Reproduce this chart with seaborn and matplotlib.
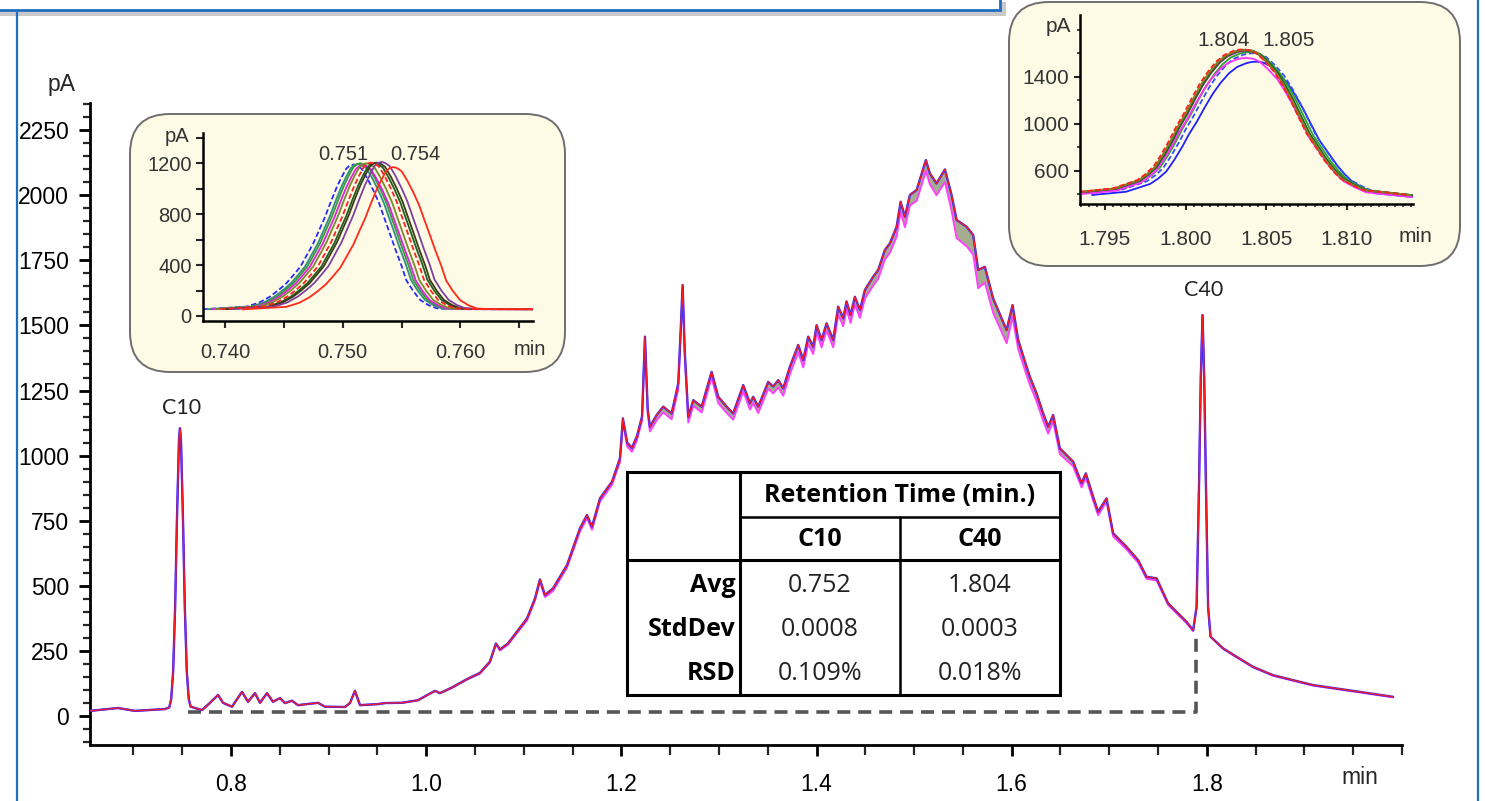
import numpy as np
import pandas as pd
import seaborn as sns
import matplotlib.pyplot as plt
from matplotlib.patches import FancyBboxPatch, Rectangle
from matplotlib.ticker import MultipleLocator, FixedLocator, FormatStrFormatter

# ---- main chromatogram (top trace of the overlay) ----
rt = [0.6555, 0.6842, 0.7016, 0.7324, 0.7367, 0.7387, 0.7407, 0.7427, 0.7447, 0.7467,
      0.7477, 0.7487, 0.7507, 0.7527, 0.7547, 0.7567, 0.7587, 0.7703, 0.7785, 0.7867,
      0.7918, 0.8010, 0.8113, 0.8174, 0.8246, 0.8297, 0.8369, 0.8430, 0.8502, 0.8553,
      0.8625, 0.8686, 0.8891, 0.8963, 0.9168, 0.9219, 0.9270, 0.9322, 0.9506, 0.9578,
      0.9752, 0.9916, 1.0090, 1.0141, 1.0264, 1.0418, 1.0551, 1.0653, 1.0715, 1.0756,
      1.0838, 1.0930, 1.1033, 1.1115, 1.1166, 1.1217, 1.1299, 1.1443, 1.1576, 1.1648,
      1.1699, 1.1781, 1.1904, 1.1986, 1.2016, 1.2060, 1.2109, 1.2160, 1.2212, 1.2242,
      1.2270, 1.2293, 1.2362, 1.2429, 1.2515, 1.2583, 1.2608, 1.2628, 1.2650, 1.2686,
      1.2737, 1.2823, 1.2925, 1.2993, 1.3079, 1.3146, 1.3249, 1.3318, 1.3351, 1.3403,
      1.3505, 1.3556, 1.3608, 1.3659, 1.3727, 1.3813, 1.3864, 1.3915, 1.3966, 1.4001,
      1.4052, 1.4103, 1.4171, 1.4222, 1.4274, 1.4308, 1.4349, 1.4393, 1.4445, 1.4496,
      1.4581, 1.4632, 1.4701, 1.4752, 1.4821, 1.4862, 1.4906, 1.4957, 1.5026, 1.5121,
      1.5162, 1.5230, 1.5316, 1.5384, 1.5436, 1.5538, 1.5606, 1.5657, 1.5725, 1.5810,
      1.5948, 1.6009, 1.6067, 1.6153, 1.6186, 1.6255, 1.6323, 1.6374, 1.6425, 1.6494,
      1.6630, 1.6716, 1.6760, 1.6835, 1.6886, 1.6972, 1.7040, 1.7177, 1.7296, 1.7382,
      1.7485, 1.7603, 1.7792, 1.7860, 1.7895, 1.7921, 1.7938, 1.7956, 1.7973, 1.7990,
      1.8013, 1.8038, 1.8167, 1.8304, 1.8474, 1.8679, 1.8884, 1.9089, 1.9329, 1.9568,
      1.9909]
signal = [20, 31, 20, 27, 33, 65, 171, 414, 770, 1063,
          1105, 1063, 770, 414, 171, 65, 36, 23, 51, 81,
          51, 36, 93, 55, 88, 51, 88, 55, 69, 50,
          59, 42, 51, 36, 35, 50, 97, 42, 46, 50,
          51, 61, 97, 88, 110, 142, 166, 209, 279, 256,
          279, 324, 375, 452, 525, 465, 490, 580, 721, 772,
          727, 836, 900, 990, 1143, 1050, 1030, 1075, 1150, 1457,
          1180, 1111, 1156, 1188, 1162, 1277, 1480, 1655, 1400, 1149,
          1213, 1188, 1322, 1226, 1188, 1162, 1271, 1201, 1226, 1188,
          1283, 1265, 1290, 1258, 1341, 1425, 1367, 1457, 1418, 1501,
          1444, 1508, 1444, 1572, 1527, 1592, 1540, 1610, 1559, 1636,
          1687, 1713, 1790, 1815, 1879, 1975, 1917, 2001, 2020, 2135,
          2084, 2045, 2099, 2001, 1905, 1879, 1847, 1713, 1725, 1604,
          1482, 1578, 1444, 1341, 1303, 1239, 1162, 1111, 1156, 1028,
          977, 894, 932, 842, 785, 836, 702, 650, 599, 535,
          529, 433, 362, 330, 420, 906, 1300, 1540, 1300, 906,
          420, 305, 260, 228, 189, 157, 138, 119, 106, 93,
          74]
# depth of the replicate band below the top trace
band = [0, 0, 0, 0, 0, 0, 0, 0, 0, 0,
        0, 0, 0, 0, 0, 0, 0, 0, 0, 0,
        0, 0, 0, 0, 0, 0, 0, 0, 0, 0,
        0, 0, 0, 0, 0, 0, 0, 0, 0, 0,
        0, 0, 0, 0, 2, 2, 3, 3, 4, 4,
        5, 5, 8, 8, 8, 8, 10, 10, 12, 12,
        12, 12, 12, 14, 15, 15, 15, 15, 15, 15,
        15, 18, 20, 22, 22, 22, 15, 12, 15, 22,
        22, 22, 22, 24, 24, 24, 24, 24, 24, 24,
        26, 26, 28, 28, 28, 28, 28, 28, 28, 28,
        28, 28, 28, 30, 30, 30, 30, 30, 30, 32,
        34, 34, 36, 36, 38, 38, 40, 40, 42, 42,
        42, 45, 48, 60, 70, 75, 75, 70, 60, 55,
        50, 45, 35, 32, 30, 30, 28, 26, 24, 22,
        18, 16, 16, 15, 14, 12, 12, 10, 10, 8,
        8, 6, 5, 4, 0, 0, 0, 0, 0, 0,
        0, 0, 2, 2, 2, 2, 2, 2, 2, 2,
        2]

peak_names = ['C10', 'C40']
peak_label_rt = [0.7497, 1.7969]
peak_label_pa = [1183, 1636]

bracket_rt = [0.7559, 1.7884, 1.7884]
bracket_pa = [15, 15, 322]

# ---- C10 zoom inset: one peak profile, per-run apex position and height ----
c10_offset = [-0.0128, -0.0091, -0.0080, -0.0071, -0.0064, -0.0057, -0.0051, -0.0045, -0.0040,
              -0.0034, -0.0029, -0.0024, -0.0019, -0.0014, -0.0010, -0.0006, -0.0003, 0.0,
              0.0003, 0.0007, 0.0012, 0.0017, 0.0022, 0.0026, 0.0031, 0.0036, 0.0041,
              0.0045, 0.0051, 0.0057, 0.0064, 0.0071, 0.0085, 0.0153]
c10_profile = [53, 73, 105, 151, 200, 256, 320, 387, 470,
               570, 675, 779, 900, 1014, 1090, 1158, 1183, 1190,
               1183, 1158, 1080, 988, 885, 779, 650, 518, 395,
               282, 195, 125, 85, 60, 54, 53]
c10_apex_rt = [0.7509, 0.7513, 0.7515, 0.7517, 0.7520, 0.7527, 0.7529, 0.7533, 0.7524, 0.7543]
c10_apex_pa = [1190, 1195, 1200, 1185, 1200, 1200, 1205, 1210, 1205, 1170]
c10_colors = ['#2a2aff', '#2f8f7f', '#3a9a3a', '#e020e0', '#7a8a2a', '#1f5f1f', '#3c3c1c',
              '#8040a0', '#ff2020', '#ff2a1a']
c10_dashed = [True, False, False, False, False, False, False, False, True, False]

# ---- C40 zoom inset ----
c40_offset = [-0.0102, -0.0081, -0.0066, -0.0061, -0.0056, -0.0051, -0.0046, -0.0042,
              -0.0037, -0.0032, -0.0027, -0.0022, -0.0017, -0.0012, -0.0006, -0.0003, 0.0,
              0.0004, 0.0008, 0.0013, 0.0019, 0.0024, 0.0029, 0.0034, 0.0039, 0.0045,
              0.0050, 0.0055, 0.0060, 0.0067, 0.0074, 0.0103]
c40_profile = [421, 450, 521, 570, 634, 740, 861, 970,
               1088, 1220, 1344, 1445, 1528, 1585, 1621, 1630, 1633,
               1625, 1599, 1535, 1442, 1330, 1203, 1060, 918, 795,
               691, 605, 535, 480, 436, 393]
c40_apex_rt = [1.8044, 1.8042, 1.8040, 1.8038, 1.8038, 1.8038, 1.8037, 1.8037, 1.8036]
c40_apex_pa = [1528, 1600, 1610, 1560, 1620, 1628, 1625, 1630, 1633]
c40_colors = ['#2020ff', '#3050ff', '#30a030', '#ff30ff', '#8040a0', '#1f5f1f', '#8b4513',
              '#7a8a2a', '#ff2020']
c40_dashed = [False, True, False, False, False, False, False, False, True]

# ---- results table ----
table_cols = ['C10', 'C40']
table_rows = ['Avg', 'StdDev', 'RSD']
table_vals = [['0.752', '1.804'], ['0.0008', '0.0003'], ['0.109%', '0.018%']]

sns.set_theme(style="ticks")
plt.rcParams['font.family'] = ['Liberation Sans', 'DejaVu Sans']

W, H = 1485, 801
fig = plt.figure(figsize=(W / 100, H / 100), dpi=100)
fig.patch.set_facecolor('white')


def box(l, t, r, b):
    return [l / W, 1 - b / H, (r - l) / W, (b - t) / H]


def ftext(x, y, s, **kw):
    fig.text(x / W, 1 - y / H, s, **kw)


# main axes
ax = fig.add_axes(box(90, 103, 1402, 745))
ax.set_zorder(0)
rt_a = np.array(rt)
top = np.array(signal)
low = top - np.array(band)
ax.fill_between(rt_a, low, top, color='#a4ad8e', lw=0, zorder=2)
sns.lineplot(x=rt_a, y=low, ax=ax, color='#ff40ff', lw=1.4, estimator=None, sort=False, zorder=3)
sns.lineplot(x=rt_a, y=top, ax=ax, color='#2b2bff', lw=1.7, estimator=None, sort=False, zorder=4)
sns.lineplot(x=rt_a, y=top, ax=ax, color='#ff1a1a', lw=0.9, estimator=None, sort=False, zorder=5)
ax.plot(bracket_rt, bracket_pa, color='#555555', lw=2.6, ls=(0, (3.6, 2.2)), zorder=1)
for name, x, y in zip(peak_names, peak_label_rt, peak_label_pa):
    ax.text(x, y, name, ha='center', va='center', fontsize=15.5, color='#222222',
            family=['Lato', 'DejaVu Sans'])

ax.set_xlim(0.6555, 2.0)
ax.set_ylim(-111, 2354)
ax.set_facecolor('none')
ax.grid(False)
sns.despine(ax=ax)
for s in ['left', 'bottom']:
    ax.spines[s].set_linewidth(2)
    ax.spines[s].set_color('black')
ax.xaxis.set_major_locator(FixedLocator([0.8, 1.0, 1.2, 1.4, 1.6, 1.8]))
ax.xaxis.set_minor_locator(MultipleLocator(0.05))
ax.xaxis.set_major_formatter(FormatStrFormatter('%.1f'))
ax.yaxis.set_major_locator(MultipleLocator(250))
ax.yaxis.set_minor_locator(MultipleLocator(50))
ax.tick_params(axis='both', which='major', length=8, width=2, direction='out',
               labelsize=16.5, colors='black')
ax.tick_params(axis='both', which='minor', length=5, width=1.6, direction='out')
ax.tick_params(axis='x', which='major', pad=12)
ax.tick_params(axis='y', which='major', pad=7)
ax.tick_params(axis='x', which='minor', length=7)
ax.set_xlabel('')
ax.set_ylabel('')
ftext(62, 85, 'pA', ha='center', va='center', fontsize=16.5)
ftext(1360, 778, 'min', ha='center', va='center', fontsize=16.5)

# overlay in pixel units: frame, inset boxes, table
ov = fig.add_axes([0, 0, 1, 1])
ov.set_xlim(0, W)
ov.set_ylim(H, 0)
ov.axis('off')
ov.set_zorder(1)
ov.add_patch(Rectangle((-10, 2), 1016, 14, fc='#c9c9c9', ec='none'))
ov.add_patch(Rectangle((-10, -10), 1010, 20, fc='white', ec='#1f6fbf', lw=2))
ov.plot([17, 17], [12, H], color='#1f6fbf', lw=1.6)
ov.plot([1478, 1478], [0, H], color='#1f6fbf', lw=1.6)
ov.add_patch(FancyBboxPatch((130, 114), 435, 258, boxstyle='round,pad=0,rounding_size=40',
                            fc='#fdfbe6', ec='#6e6e6e', lw=1.4))
ov.add_patch(FancyBboxPatch((1009, 2), 451, 264, boxstyle='round,pad=0,rounding_size=40',
                            fc='#fdfbe6', ec='#6e6e6e', lw=1.4))

# table
tl, tt, tr, tb = 627, 472, 1060, 695
c1, c2 = 740, 900
h1, h2 = 517, 560
ov.add_patch(Rectangle((tl, tt), tr - tl, tb - tt, fc='white', ec='black', lw=2.2))
ov.plot([c1, c1], [tt, tb], color='black', lw=2.2)
ov.plot([c2, c2], [h1, tb], color='black', lw=1.8)
ov.plot([c1, tr], [h1, h1], color='black', lw=1.8)
ov.plot([tl, tr], [h2, h2], color='black', lw=2.2)
tfam = ['Open Sans', 'DejaVu Sans']
ov.text((c1 + tr) / 2, 495, 'Retention Time (min.)', ha='center', va='center',
        fontsize=18, fontweight='bold', family=tfam, color='black')
for cx, name in zip([(c1 + c2) / 2, (c2 + tr) / 2], table_cols):
    ov.text(cx, 539, name, ha='center', va='center', fontsize=18, fontweight='bold',
            family=tfam, color='black')
for ry, rname, vals in zip([585, 630, 673], table_rows, table_vals):
    ov.text(c1 - 4, ry, rname, ha='right', va='center', fontsize=18, fontweight='bold',
            family=tfam, color='black')
    for cx, v in zip([(c1 + c2) / 2, (c2 + tr) / 2], vals):
        ov.text(cx, ry, v, ha='center', va='center', fontsize=18, color='#222222',
                family=tfam)


def peak_frame(offsets, profile, apex_rt, apex_pa):
    rows = []
    prof = np.array(profile, dtype=float)
    for k, (c, h) in enumerate(zip(apex_rt, apex_pa)):
        for o, p in zip(offsets, prof * h / prof.max()):
            rows.append((k, c + o, p))
    return pd.DataFrame(rows, columns=['run', 'rt', 'pA'])


def style_inset(a):
    a.set_facecolor('none')
    a.grid(False)
    sns.despine(ax=a)
    for s in ['left', 'bottom']:
        a.spines[s].set_linewidth(1.8)
        a.spines[s].set_color('black')
    a.set_xlabel('')
    a.set_ylabel('')


lab_col = '#333333'

# inset C10
ins1 = fig.add_axes(box(202.7, 133, 533.3, 320.7))
ins1.set_zorder(2)
df1 = peak_frame(c10_offset, c10_profile, c10_apex_rt, c10_apex_pa)
sns.lineplot(data=df1, x='rt', y='pA', hue='run', style='run', ax=ins1,
             palette=dict(enumerate(c10_colors)),
             dashes={k: ((3, 1.5) if d else '') for k, d in enumerate(c10_dashed)},
             estimator=None, sort=False, legend=False, lw=1.3)
ins1.set_xlim(0.7381, 0.7662)
ins1.set_ylim(-37, 1438)
style_inset(ins1)
ins1.xaxis.set_major_locator(FixedLocator([0.740, 0.750, 0.760]))
ins1.xaxis.set_minor_locator(FixedLocator([0.745, 0.755, 0.765]))
ins1.xaxis.set_major_formatter(FormatStrFormatter('%.3f'))
ins1.yaxis.set_major_locator(FixedLocator([0, 400, 800, 1200]))
ins1.yaxis.set_minor_locator(MultipleLocator(200))
ins1.tick_params(which='both', length=5, width=1.5, direction='out', labelsize=14.5,
                 labelcolor=lab_col)
ins1.tick_params(axis='x', which='major', pad=11)
ins1.tick_params(axis='y', which='major', pad=3)
ftext(177, 136, 'pA', ha='center', va='center', fontsize=14.5, color=lab_col)
ftext(530, 350, 'min', ha='center', va='center', fontsize=14.5, color=lab_col)
ftext(343, 154, '0.751', ha='center', va='center', fontsize=14.5, color=lab_col)
ftext(415, 154, '0.754', ha='center', va='center', fontsize=14.5, color=lab_col)

# inset C40
ins2 = fig.add_axes(box(1080, 15, 1413.3, 204))
ins2.set_zorder(2)
df2 = peak_frame(c40_offset, c40_profile, c40_apex_rt, c40_apex_pa)
sns.lineplot(data=df2, x='rt', y='pA', hue='run', style='run', ax=ins2,
             palette=dict(enumerate(c40_colors)),
             dashes={k: ((3, 1.5) if d else '') for k, d in enumerate(c40_dashed)},
             estimator=None, sort=False, legend=False, lw=1.3)
ins2.set_xlim(1.79345, 1.81413)
ins2.set_ylim(317, 1925)
style_inset(ins2)
ins2.xaxis.set_major_locator(FixedLocator([1.795, 1.800, 1.805, 1.810]))
ins2.xaxis.set_minor_locator(MultipleLocator(0.0005))
ins2.xaxis.set_major_formatter(FormatStrFormatter('%.3f'))
ins2.yaxis.set_major_locator(FixedLocator([600, 1000, 1400]))
ins2.yaxis.set_minor_locator(MultipleLocator(200))
ins2.tick_params(which='major', length=4, width=1.5, direction='out', labelsize=15,
                 labelcolor=lab_col)
ins2.tick_params(which='minor', length=2.5, width=1.2, direction='out')
ins2.tick_params(axis='x', which='major', pad=15)
ins2.tick_params(axis='y', which='major', pad=4)
ftext(1058, 26, 'pA', ha='center', va='center', fontsize=15, color=lab_col)
ftext(1415, 237, 'min', ha='center', va='center', fontsize=15, color=lab_col)
ftext(1224, 40, '1.804', ha='center', va='center', fontsize=15, color=lab_col)
ftext(1289, 40, '1.805', ha='center', va='center', fontsize=15, color=lab_col)

fig.savefig('out.png', dpi=100, facecolor='white')
